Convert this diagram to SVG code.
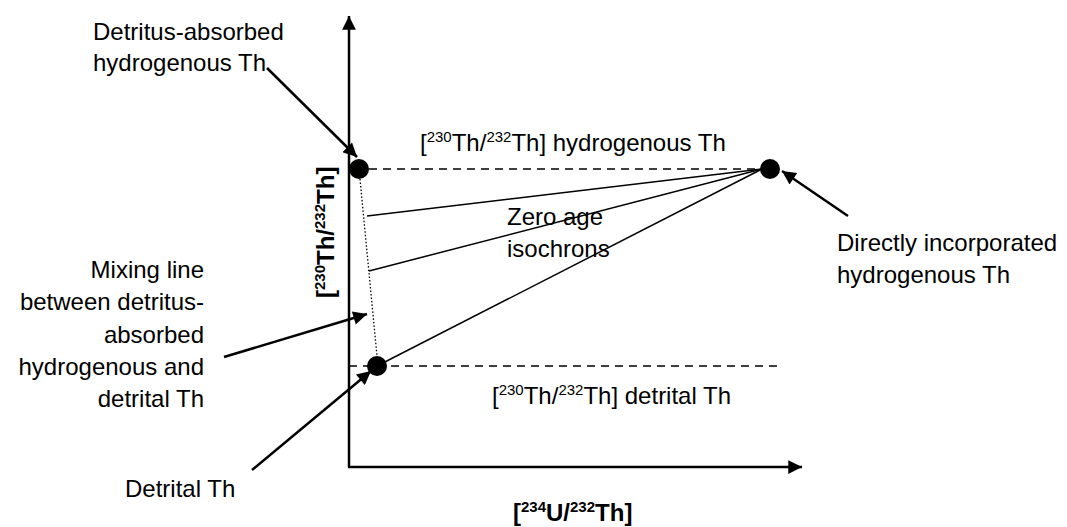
<svg xmlns="http://www.w3.org/2000/svg" width="1067" height="527" viewBox="0 0 1067 527">
<style>
text{font-family:"Liberation Sans",Arial,sans-serif;font-size:24px;fill:#000}
.b{font-weight:bold}
.sup{font-size:15px}
.ax{stroke:#000;stroke-width:2.5;fill:none}
.ptr{stroke:#000;stroke-width:2.5;fill:none}
.iso{stroke:#000;stroke-width:1.5;fill:none}
.dash{stroke:#000;stroke-width:1.5;stroke-dasharray:8 6;fill:none}
.dot{stroke:#000;stroke-width:1.3;stroke-dasharray:1.5 2;fill:none}
</style>
<defs>
<marker id="ah" viewBox="0 0 10 10" refX="10" refY="5" markerWidth="6.5" markerHeight="5.5" markerUnits="strokeWidth" orient="auto">
<path d="M0,0 L10,5 L0,10 z" fill="#000"/>
</marker>
</defs>
<g id="axes">
<line class="ax" x1="349" y1="467" x2="349" y2="16" marker-end="url(#ah)"/>
<line class="ax" x1="348" y1="467" x2="802" y2="467" marker-end="url(#ah)"/>
</g>
<g id="connectors">
<line class="dash" x1="369" y1="169" x2="760" y2="169"/>
<line class="dash" x1="349" y1="366" x2="782" y2="366"/>
<line class="dot" x1="360" y1="179" x2="377" y2="356"/>
<line class="iso" x1="367" y1="216" x2="762" y2="169"/>
<line class="iso" x1="369" y1="271" x2="762" y2="169"/>
<line class="iso" x1="377" y1="366" x2="762" y2="169"/>
<line class="ptr" x1="267" y1="68" x2="357" y2="157" marker-end="url(#ah)"/>
<line class="ptr" x1="848" y1="216" x2="782" y2="171" marker-end="url(#ah)"/>
<line class="ptr" x1="224" y1="357" x2="367" y2="314" marker-end="url(#ah)"/>
<line class="ptr" x1="252" y1="470" x2="371" y2="371" marker-end="url(#ah)"/>
</g>
<g id="node-detritus-absorbed">
<circle cx="359" cy="169" r="10" fill="#000"/>
<text x="93" y="40">Detritus-absorbed</text>
<text x="93" y="71">hydrogenous Th</text>
</g>
<g id="node-direct">
<circle cx="770" cy="169" r="10" fill="#000"/>
<text x="837" y="251">Directly incorporated</text>
<text x="837" y="283">hydrogenous Th</text>
</g>
<g id="node-detrital">
<circle cx="377" cy="366" r="10" fill="#000"/>
<text x="125" y="497">Detrital Th</text>
</g>
<g id="label-mixing">
<text x="204" y="278" text-anchor="end">Mixing line</text>
<text x="204" y="310" text-anchor="end">between detritus-</text>
<text x="204" y="343" text-anchor="end">absorbed</text>
<text x="204" y="375" text-anchor="end">hydrogenous and</text>
<text x="204" y="407" text-anchor="end">detrital Th</text>
</g>
<g id="label-hydro">
<text x="420" y="151">[<tspan class="sup" dy="-9">230</tspan><tspan dy="9">Th/</tspan><tspan class="sup" dy="-9">232</tspan><tspan dy="9">Th] hydrogenous Th</tspan></text>
</g>
<g id="label-detrital">
<text x="492" y="404">[<tspan class="sup" dy="-9">230</tspan><tspan dy="9">Th/</tspan><tspan class="sup" dy="-9">232</tspan><tspan dy="9">Th] detrital Th</tspan></text>
</g>
<g id="label-iso">
<text x="507" y="225">Zero age</text>
<text x="507" y="257">isochrons</text>
</g>
<g id="label-yaxis">
<text class="b" transform="translate(334,298) rotate(-90)">[<tspan class="sup" dy="-9">230</tspan><tspan dy="9">Th/</tspan><tspan class="sup" dy="-9">232</tspan><tspan dy="9">Th]</tspan></text>
</g>
<g id="label-xaxis">
<text class="b" x="513" y="521">[<tspan class="sup" dy="-9">234</tspan><tspan dy="9">U/</tspan><tspan class="sup" dy="-9">232</tspan><tspan dy="9">Th]</tspan></text>
</g>
</svg>
